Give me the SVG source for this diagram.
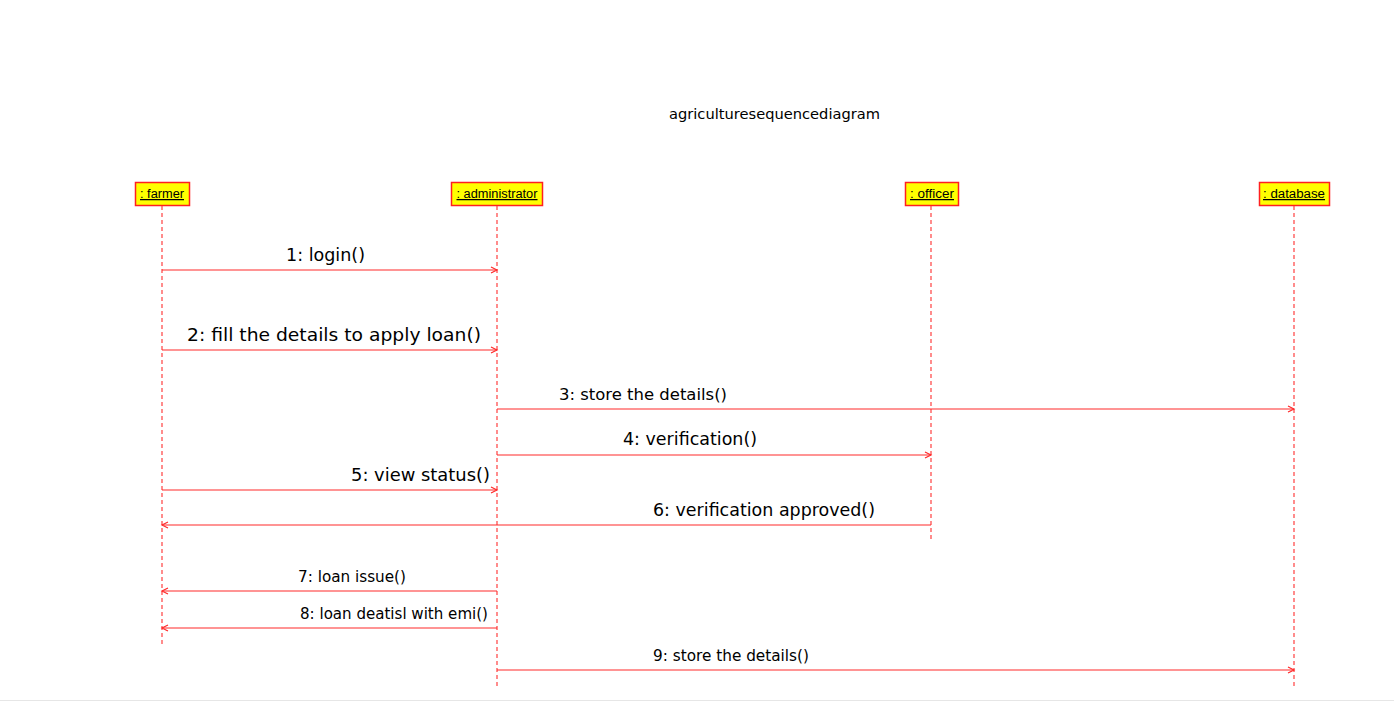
<svg xmlns="http://www.w3.org/2000/svg" width="1394" height="702" viewBox="0 0 1394 702">
<style>
.bg{fill:#ffffff}
.box{fill:#ffff00;stroke:#ff2020;stroke-width:1.5}
.hdr{font-family:"Liberation Sans","DejaVu Sans",sans-serif;font-size:12.5px;fill:#000;text-decoration:underline}
.life{stroke:#ff4040;stroke-width:1.2;stroke-dasharray:4,3;fill:none}
.msg{stroke:#ff2a2a;stroke-width:1.2;fill:none;marker-end:url(#arr)}
.lbl{font-family:"DejaVu Sans","Liberation Sans",sans-serif;fill:#000}
.big{font-size:18px}
.mid{font-size:15px}
.title{font-family:"DejaVu Sans","Liberation Sans",sans-serif;font-size:14px;fill:#000}
</style>
<defs>
<marker id="arr" markerWidth="10" markerHeight="10" refX="8" refY="4" orient="auto" markerUnits="userSpaceOnUse">
<path d="M2,1 L8,4 L2,7" fill="none" stroke="#ff2a2a" stroke-width="1.2"/>
</marker>
</defs>
<rect class="bg" x="0" y="0" width="1394" height="702"/>
<line x1="0" y1="700.5" x2="1394" y2="700.5" stroke="#e6e6e6" stroke-width="1"/>
<text class="title" x="669" y="119" textLength="211" lengthAdjust="spacingAndGlyphs">agriculturesequencediagram</text>

<g id="farmer">
<rect class="box" x="135.5" y="182.5" width="54" height="23"/>
<text class="hdr" x="162" y="198" text-anchor="middle" textLength="44" lengthAdjust="spacingAndGlyphs">: farmer</text>
<line class="life" x1="162" y1="206" x2="162" y2="645"/>
</g>
<g id="administrator">
<rect class="box" x="451.5" y="182.5" width="91" height="23"/>
<text class="hdr" x="497" y="198" text-anchor="middle" textLength="81" lengthAdjust="spacingAndGlyphs">: administrator</text>
<line class="life" x1="497" y1="206" x2="497" y2="688"/>
</g>
<g id="officer">
<rect class="box" x="905.5" y="182.5" width="53" height="23"/>
<text class="hdr" x="932" y="198" text-anchor="middle" textLength="44" lengthAdjust="spacingAndGlyphs">: officer</text>
<line class="life" x1="931" y1="206" x2="931" y2="542"/>
</g>
<g id="database">
<rect class="box" x="1259.5" y="182.5" width="70" height="23"/>
<text class="hdr" x="1294" y="198" text-anchor="middle" textLength="62" lengthAdjust="spacingAndGlyphs">: database</text>
<line class="life" x1="1294" y1="206" x2="1294" y2="688"/>
</g>

<g id="connectors">
<line class="msg" x1="162" y1="270" x2="497" y2="270"/>
<text class="lbl big" x="286" y="261" textLength="79" lengthAdjust="spacingAndGlyphs">1: login()</text>
<line class="msg" x1="162" y1="350" x2="497" y2="350"/>
<text class="lbl big" x="187" y="341" textLength="294" lengthAdjust="spacingAndGlyphs">2: fill the details to apply loan()</text>
<line class="msg" x1="497" y1="409" x2="1294" y2="409"/>
<text class="lbl mid" x="559" y="400" textLength="168" lengthAdjust="spacingAndGlyphs">3: store the details()</text>
<line class="msg" x1="497" y1="455" x2="931" y2="455"/>
<text class="lbl big" x="623" y="445" textLength="134" lengthAdjust="spacingAndGlyphs">4: verification()</text>
<line class="msg" x1="162" y1="490" x2="497" y2="490"/>
<text class="lbl big" x="351" y="481" textLength="139" lengthAdjust="spacingAndGlyphs">5: view status()</text>
<line class="msg" x1="931" y1="525" x2="162" y2="525"/>
<text class="lbl big" x="653" y="516" textLength="222" lengthAdjust="spacingAndGlyphs">6: verification approved()</text>
<line class="msg" x1="497" y1="591" x2="162" y2="591"/>
<text class="lbl mid" x="298" y="582" textLength="108" lengthAdjust="spacingAndGlyphs">7: loan issue()</text>
<line class="msg" x1="497" y1="628" x2="162" y2="628"/>
<text class="lbl mid" x="300" y="619" textLength="188" lengthAdjust="spacingAndGlyphs">8: loan deatisl with emi()</text>
<line class="msg" x1="497" y1="670" x2="1294" y2="670"/>
<text class="lbl mid" x="653" y="661" textLength="156" lengthAdjust="spacingAndGlyphs">9: store the details()</text>
</g>
</svg>
